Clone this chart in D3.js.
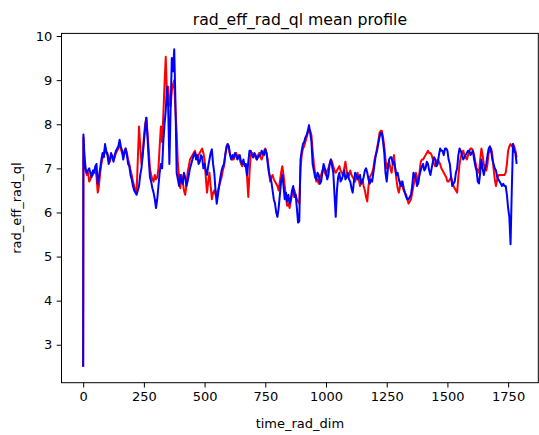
<!DOCTYPE html>
<html>
<head>
<meta charset="utf-8">
<script src="https://cdn.jsdelivr.net/npm/d3@7"></script>
<style>
  html, body { margin: 0; padding: 0; background: #ffffff; }
  svg text { font-family: "DejaVu Sans", sans-serif; fill: #000; }
</style>
</head>
<body>
<svg id="chart" width="539" height="435"></svg>
<script>
// ---- data ----
const title = "rad_eff_rad_ql mean profile";
const xLabel = "time_rad_dim";
const yLabel = "rad_eff_rad_ql";
const xTicks = [0, 250, 500, 750, 1000, 1250, 1500, 1750];
const yTicks = [3, 4, 5, 6, 7, 8, 9, 10];

// time index: 0, 1, then every 5 steps up to 1785
const time = [0, 1].concat(d3.range(5, 1786, 5));

const redValues = [
  2.5, 7.7,
  7.2, 6.95, 6.85, 6.9, 6.7, 6.75, 6.9, 6.85, 6.95, 7.0,
  6.8, 6.45, 6.6, 6.9, 7.1, 7.25, 7.3, 7.45, 7.35, 7.35,
  7.2, 7.15, 7.3, 7.3, 7.2, 7.25, 7.35, 7.4, 7.45, 7.55,
  7.45, 7.35, 7.3, 7.4, 7.45, 7.35, 7.2, 7.1, 6.95, 6.85,
  6.7, 6.6, 6.5, 6.45, 7.2, 7.95, 7.5, 7.1, 7.3, 7.7,
  8.0, 8.15, 7.8, 7.4, 7.0, 6.85, 6.75, 6.7, 6.85, 6.75,
  6.8, 7.0, 7.5, 7.95, 7.6, 8.2, 8.9, 9.53, 8.7, 8.85,
  8.5, 8.4, 8.75, 8.9, 9.0, 8.3, 7.8, 7.1, 6.8, 6.55,
  6.85, 6.7, 6.5, 6.4, 6.6, 6.9, 7.05, 7.2, 7.25, 7.3,
  7.35, 7.4, 7.3, 7.2, 7.3, 7.35, 7.4, 7.45, 7.35, 7.2,
  6.8, 6.45, 6.7, 6.9, 6.6, 6.3, 6.45, 6.5, 6.4, 6.45,
  6.5, 6.6, 6.7, 6.8, 6.95, 7.05, 7.3, 7.5, 7.55, 7.45,
  7.3, 7.25, 7.2, 7.2, 7.3, 7.35, 7.25, 7.3, 7.2, 7.1,
  7.05, 7.15, 7.1, 7.05, 6.8, 6.35, 6.9, 7.3, 7.35, 7.25,
  7.3, 7.25, 7.2, 7.3, 7.35, 7.25, 7.2, 7.3, 7.4, 7.45,
  7.35, 7.2, 6.95, 6.7, 6.8, 6.85, 6.75, 6.7, 6.65, 6.6,
  6.5, 6.7, 6.9, 7.05, 6.85, 6.6, 6.35, 6.15, 6.2, 6.1,
  6.25, 6.4, 6.55, 6.5, 6.4, 6.3, 6.25, 6.2, 7.0, 7.3,
  7.45, 7.5, 7.6, 7.7, 7.8, 7.9, 7.85, 7.75, 7.4, 7.1,
  6.9, 6.7, 6.75, 6.65, 6.8, 6.85, 6.95, 7.0, 6.9, 6.85,
  6.95, 7.0, 7.1, 7.2, 7.15, 7.05, 6.95, 6.9, 6.95, 7.0,
  7.05, 6.95, 6.9, 6.85, 7.0, 7.15, 6.95, 6.8, 6.85, 6.95,
  6.85, 6.8, 6.75, 6.7, 6.8, 6.9, 6.75, 6.6, 6.7, 6.75,
  6.6, 6.5, 6.35, 6.25, 6.6, 6.8, 6.85, 6.9, 7.0, 7.2,
  7.3, 7.45, 7.6, 7.8, 7.85, 7.85, 7.7, 7.5, 7.2, 7.0,
  7.1, 7.15, 7.0, 6.9, 7.1, 7.3, 7.0, 6.75, 6.55, 6.45,
  6.6, 6.7, 6.6, 6.5, 6.45, 6.4, 6.3, 6.2, 6.25, 6.3,
  6.45, 6.6, 6.75, 6.9, 6.8, 6.65, 6.9, 7.15, 7.2, 7.2,
  7.25, 7.3, 7.35, 7.4, 7.35, 7.35, 7.3, 7.2, 7.1, 7.05,
  7.15, 7.2, 7.15, 7.1, 7.0, 6.95, 6.9, 6.85, 6.8, 6.7,
  6.7, 6.75, 6.8, 6.7, 6.6, 6.55, 6.5, 6.45, 6.8, 7.1,
  7.25, 7.35, 7.4, 7.3, 7.25, 7.2, 7.3, 7.4, 7.45, 7.45,
  7.4, 7.3, 7.15, 7.0, 6.95, 6.9, 7.2, 7.45, 7.3, 7.1,
  7.0, 6.95, 7.1, 7.35, 7.4, 7.45, 7.3, 7.0, 6.75, 6.6,
  6.75, 6.85, 6.85, 6.85, 6.85, 6.85, 6.85, 6.9, 7.1, 7.4,
  7.5, 7.55, 7.5, 7.55, 7.5, 7.4, 7.25
];

const blueValues = [
  2.5, 7.77,
  7.3, 7.0, 6.9, 6.95, 7.0, 6.88, 6.8, 6.95, 6.9, 7.05,
  7.1, 6.65, 6.8, 7.0, 7.2, 7.35, 7.25, 7.55, 7.4, 7.3,
  7.1, 7.2, 7.35, 7.25, 7.15, 7.3, 7.4, 7.45, 7.5, 7.65,
  7.5, 7.4, 7.2, 7.35, 7.45, 7.3, 7.1, 7.05, 6.85, 6.75,
  6.6, 6.5, 6.45, 6.4, 6.5, 6.6, 6.85, 7.0, 7.3, 7.6,
  7.9, 8.15, 7.7, 7.2, 6.8, 6.7, 6.55, 6.45, 6.3, 6.1,
  6.3, 6.6, 6.9, 7.1, 7.0, 7.6, 8.0, 8.3, 8.85, 8.4,
  7.1, 8.3, 9.5, 9.2, 9.7, 8.5, 6.9, 6.75, 6.6, 6.85,
  6.7, 6.65, 6.9, 6.8, 6.6, 6.7, 6.85, 7.0, 7.1, 7.2,
  7.3, 7.35, 7.2, 7.3, 7.1, 7.15, 7.3, 7.25, 7.0, 7.1,
  6.95, 6.85, 7.05, 7.2, 7.35, 7.43, 7.1, 6.9, 6.5, 6.2,
  6.4, 6.6, 6.8, 6.95, 7.05, 7.1, 7.3, 7.45, 7.55, 7.5,
  7.3, 7.2, 7.3, 7.25, 7.35, 7.3, 7.2, 7.25, 7.3, 7.15,
  7.1, 7.2, 7.05, 7.1, 6.85, 7.15, 7.4, 7.4, 7.3, 7.25,
  7.35, 7.3, 7.2, 7.25, 7.3, 7.3, 7.4, 7.35, 7.3, 7.43,
  7.35, 7.1, 6.9, 6.8, 6.7, 6.5, 6.3, 6.2, 6.0, 5.9,
  6.1, 6.4, 6.7, 6.85, 6.6, 6.3, 6.45, 6.25, 6.4, 6.2,
  6.3, 6.5, 6.6, 6.35, 6.4, 6.1, 5.77, 5.8, 7.2, 7.4,
  7.55, 7.6, 7.7, 7.75, 7.85, 7.98, 7.8, 7.6, 7.1, 6.95,
  6.8, 6.75, 6.9, 6.85, 6.65, 6.7, 6.9, 7.1, 7.0, 6.9,
  6.75, 6.85, 7.1, 7.2, 7.05, 6.9, 6.4, 5.9, 6.5, 6.8,
  6.9, 6.7, 6.75, 6.85, 6.95, 6.75, 6.8, 6.9, 6.75, 6.7,
  6.55, 6.45, 6.7, 6.9, 6.85, 6.75, 6.8, 6.85, 6.65, 6.7,
  6.8, 6.95, 7.0, 6.9, 6.75, 6.65, 6.75, 6.7, 6.9, 7.1,
  7.3, 7.4, 7.55, 7.7, 7.8, 7.8, 7.6, 7.35, 6.9, 6.7,
  7.0, 7.2, 7.25, 7.25, 7.1, 7.15, 7.0, 6.85, 6.9, 6.75,
  6.65, 6.6, 6.7, 6.55, 6.45, 6.35, 6.3, 6.3, 6.35, 6.4,
  6.6, 6.9, 6.85, 6.75, 6.6, 6.7, 6.85, 6.95, 7.05, 7.1,
  6.95, 7.0, 7.15, 7.1, 6.95, 6.85, 7.0, 7.15, 7.25, 7.2,
  7.05, 7.1, 7.3, 7.45, 7.4, 7.4, 7.3, 7.45, 7.45, 7.4,
  7.2, 7.1, 6.8, 6.6, 6.65, 6.7, 6.9, 7.0, 7.3, 7.45,
  7.4, 7.3, 7.2, 7.25, 7.3, 7.35, 7.4, 7.4, 7.3, 7.35,
  7.4, 7.2, 7.05, 6.95, 6.7, 6.66, 6.9, 7.2, 7.0, 6.85,
  7.0, 7.1, 7.3, 7.45, 7.5, 7.4, 7.2, 7.1, 7.0, 6.95,
  6.8, 6.75, 6.7, 6.65, 6.6, 6.65, 6.6, 6.6, 6.4, 6.1,
  5.9, 5.28, 6.5, 7.55, 7.4, 7.35, 7.1
];

const seriesList = [
  { name: "red", values: redValues, color: "#ff0000" },
  { name: "blue", values: blueValues, color: "#0000ff" }
];

// ---- layout ----
const svg = d3.select("#chart");
const W = 539, H = 435;
const margin = { left: 61.5, top: 33.4, right: W - 538.3, bottom: H - 382.7 };
const plotW = W - margin.left - margin.right;
const plotH = H - margin.top - margin.bottom;

svg.append("rect").attr("width", W).attr("height", H).attr("fill", "#fff");

// matplotlib-like 5% margins
const allVals = redValues.concat(blueValues);
const [xmin, xmax] = d3.extent(time);
const [ymin, ymax] = d3.extent(allVals);
const xPad = (xmax - xmin) * 0.05, yPad = (ymax - ymin) * 0.05;

const x = d3.scaleLinear().domain([xmin - xPad, xmax + xPad]).range([margin.left, margin.left + plotW]);
const y = d3.scaleLinear().domain([ymin - yPad, ymax + yPad]).range([margin.top + plotH, margin.top]);

svg.append("defs").append("clipPath").attr("id", "clip")
  .append("rect").attr("x", margin.left).attr("y", margin.top).attr("width", plotW).attr("height", plotH);

const line = d3.line()
  .x(d => x(d[0]))
  .y(d => y(d[1]));

const lines = svg.append("g").attr("clip-path", "url(#clip)");
seriesList.forEach(s => {
  const n = Math.min(time.length, s.values.length);
  const pts = d3.range(n).map(i => [time[i], s.values[i]]);
  lines.append("path")
    .datum(pts)
    .attr("fill", "none")
    .attr("stroke", s.color)
    .attr("stroke-width", 2)
    .attr("stroke-linejoin", "round")
    .attr("stroke-linecap", "butt")
    .attr("d", line);
});

// axes
const xAxis = d3.axisBottom(x).tickValues(xTicks).tickSize(4.8).tickPadding(4.5).tickFormat(d3.format("d"));
const yAxis = d3.axisLeft(y).tickValues(yTicks).tickSize(4.8).tickPadding(4.5).tickFormat(d3.format("d"));

const gx = svg.append("g").attr("transform", `translate(0,${margin.top + plotH})`).call(xAxis);
const gy = svg.append("g").attr("transform", `translate(${margin.left},0)`).call(yAxis);
[gx, gy].forEach(a => {
  a.select(".domain").remove();
  a.selectAll(".tick line").attr("stroke", "#000").attr("stroke-width", 1);
  a.selectAll(".tick text").attr("font-size", 13).attr("font-family", "DejaVu Sans").attr("fill", "#000");
});

// frame (spines)
svg.append("rect")
  .attr("x", margin.left).attr("y", margin.top)
  .attr("width", plotW).attr("height", plotH)
  .attr("fill", "none").attr("stroke", "#000").attr("stroke-width", 1);

// title & labels
svg.append("text")
  .attr("x", margin.left + plotW / 2).attr("y", margin.top - 8)
  .attr("text-anchor", "middle").attr("font-size", 15.7)
  .text(title);

svg.append("text")
  .attr("x", margin.left + plotW / 2).attr("y", 428)
  .attr("text-anchor", "middle").attr("font-size", 13)
  .text(xLabel);

svg.append("text")
  .attr("transform", `translate(21,${margin.top + plotH / 2}) rotate(-90)`)
  .attr("text-anchor", "middle").attr("font-size", 13)
  .text(yLabel);
</script>
</body>
</html>
